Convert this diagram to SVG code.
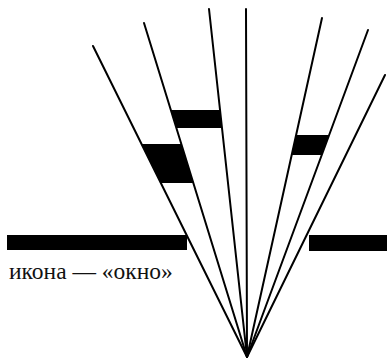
<svg xmlns="http://www.w3.org/2000/svg" width="387" height="362" viewBox="0 0 387 362">
<style>
.ray{stroke:#000;stroke-width:2;fill:none;stroke-linecap:round}
.blk{fill:#000;stroke:none}
.lbl{font-family:"Liberation Serif","Times New Roman",serif;font-size:23.5px;fill:#111}
</style>
<rect width="387" height="362" fill="#fff"/>
<g id="walls">
<rect class="blk" x="7" y="235" width="180" height="15"/>
<rect class="blk" x="309" y="235" width="78" height="16"/>
</g>
<g id="bars">
<polygon class="blk" points="170.8,110 220,110 222,128 176.4,128"/>
<polygon class="blk" points="141.5,144 181.3,144 193.3,183 160.8,183"/>
<polygon class="blk" points="296.1,135 329.1,135 321.7,155 291.7,155"/>
</g>
<g id="connectors">
<line class="ray" x1="93" y1="46" x2="247" y2="357"/>
<line class="ray" x1="144" y1="23" x2="247" y2="357"/>
<line class="ray" x1="209" y1="9" x2="247" y2="357"/>
<line class="ray" x1="246" y1="9" x2="247" y2="357"/>
<line class="ray" x1="322" y1="18" x2="247" y2="357"/>
<line class="ray" x1="368" y1="30" x2="247" y2="357"/>
<line class="ray" x1="385" y1="75" x2="247" y2="357"/>
</g>
<g id="label">
<text class="lbl" x="9" y="279">икона — «окно»</text>
</g>
</svg>
